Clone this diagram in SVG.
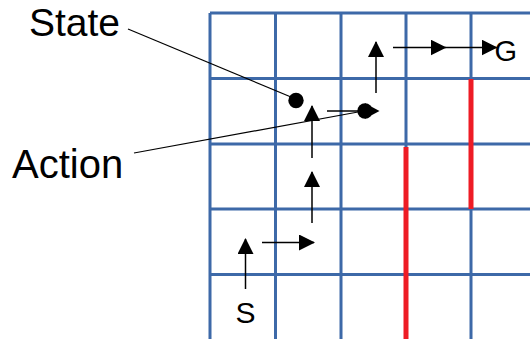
<svg xmlns="http://www.w3.org/2000/svg" width="530" height="339" viewBox="0 0 530 339">
<style>
.grid{stroke:#3d69a8;stroke-width:3;fill:none}
.wall{stroke:#ee1c25;stroke-width:5;fill:none}
.arr{stroke:#000;stroke-width:1.5;fill:none}
.call{stroke:#000;stroke-width:1.2;fill:none}
.lbl{font-family:"Liberation Sans",Arial,sans-serif;fill:#000}
</style>
<defs>
<marker id="ah" viewBox="0 0 16 16" refX="15" refY="8" markerWidth="16" markerHeight="16" markerUnits="userSpaceOnUse" orient="auto">
<path d="M0,0 L16,8 L0,16 Z" fill="#000"/>
</marker>
</defs>
<rect width="530" height="339" fill="#fff"/>
<g id="grid" class="grid">
<path d="M210,13 V339 M275.5,13 V339 M341,13 V339 M406,13 V339 M471,13 V339"/>
<path d="M210,13 H530 M210,78.5 H530 M210,144 H530 M210,209 H530 M210,274.5 H530"/>
</g>
<g id="walls" class="wall">
<line x1="406" y1="147" x2="406" y2="339"/>
<line x1="471" y1="79" x2="471" y2="209"/>
</g>
<g id="connectors">
<line class="arr" x1="245.5" y1="289" x2="245.5" y2="239" marker-end="url(#ah)"/>
<line class="arr" x1="262" y1="242.5" x2="314" y2="242.5" marker-end="url(#ah)"/>
<line class="arr" x1="312" y1="223" x2="312" y2="172" marker-end="url(#ah)"/>
<line class="arr" x1="312" y1="158" x2="312" y2="106" marker-end="url(#ah)"/>
<line class="arr" x1="327" y1="111" x2="366" y2="111"/>
<line class="arr" x1="376" y1="93" x2="376" y2="42" marker-end="url(#ah)"/>
<line class="arr" x1="393" y1="47.5" x2="445.5" y2="47.5" marker-end="url(#ah)"/>
<line class="arr" x1="445" y1="47.5" x2="496.5" y2="47.5" marker-end="url(#ah)"/>
<line class="call" x1="128" y1="29" x2="291" y2="97"/>
<line class="call" x1="134" y1="153" x2="358" y2="112"/>
</g>
<g id="state-dot">
<circle cx="296" cy="100.5" r="7.7" fill="#000"/>
</g>
<g id="action-marker">
<circle cx="365" cy="111" r="7.7" fill="#000"/>
<path d="M365,103.3 L379.5,111 L365,118.7 Z" fill="#000"/>
</g>
<g id="label-state"><text class="lbl" x="29" y="36" font-size="39">State</text></g>
<g id="label-action"><text class="lbl" x="12" y="178" font-size="40">Action</text></g>
<g id="label-s"><text class="lbl" x="245.5" y="323" font-size="30" text-anchor="middle">S</text></g>
<g id="label-g"><text class="lbl" x="494.5" y="61" font-size="29">G</text></g>
</svg>
